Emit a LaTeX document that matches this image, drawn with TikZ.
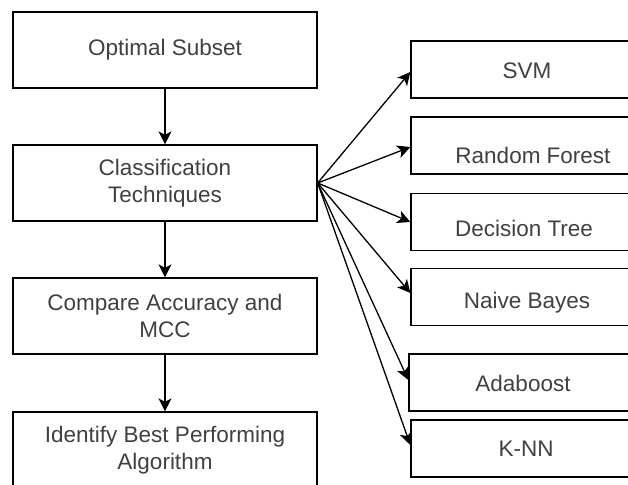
\documentclass[tikz,border=0pt]{standalone}
\usepackage{fontspec}
\setmainfont{Liberation Sans}
\usetikzlibrary{arrows.meta,calc}
\definecolor{txtgray}{HTML}{404040}
\begin{document}
\begin{tikzpicture}[x=1pt,y=-1pt,
  every node/.style={font=\fontsize{22.5}{26.5}\selectfont, text=txtgray},
  leftbox/.style={draw=black, line width=1.3pt, minimum width=304pt, minimum height=76pt, align=center, inner sep=0pt},
  rightbox/.style={draw=black, line width=1.3pt, minimum width=234pt, minimum height=57pt, inner sep=0pt},
  arr/.style={draw=black, line width=1.3pt, -{Stealth[length=13pt,width=13pt,inset=3.5pt]}}
]
\useasboundingbox (0,0) rectangle (628,484);
\clip (0,0) rectangle (628,484);
% left column
\node[leftbox] (opt) at (165,50) {Optimal Subset};
\node[leftbox] (cls) at (165,183) {Classification\\Techniques};
\node[leftbox] (cmp) at (165,316) {Compare Accuracy and\\MCC};
\node[leftbox] (best) at (165,450) {Identify Best Performing\\Algorithm};
% right column
\node[rightbox] (svm) at (528,69.5) {};
\node[rightbox] (rf) at (528,145.5) {};
\node[rightbox] (dt) at (528,222) {};
\node[rightbox] (nb) at (528,297) {};
\node[rightbox] (ada) at (526,382.5) {};
\node[rightbox] (knn) at (528,448.5) {};
\node (svmt) at (527,71) {SVM};
\node (rft) at (533,155) {Random Forest};
\node (dtt) at (524,228) {Decision Tree};
\node (nbt) at (527,303) {Naive Bayes};
\node (adat) at (523,383) {Adaboost};
\node (knnt) at (526,449) {K-NN};
% vertical arrows
\draw[arr] (opt) -- (cls);
\draw[arr] (cls) -- (cmp);
\draw[arr] (cmp) -- (best);
% fan-out arrows
\draw[arr] (cls.east) -- ([yshift=-2.5pt]svm.west);
\draw[arr] (cls.east) -- ([yshift=-1.5pt]rf.west);
\draw[arr] (cls.east) -- (dt.west);
\draw[arr] (cls.east) -- ([yshift=4pt]nb.west);
\draw[arr] (cls.east) -- ([yshift=2.5pt]ada.west);
\draw[arr] (cls.east) -- ([yshift=3.5pt]knn.west);
\end{tikzpicture}
\end{document}
